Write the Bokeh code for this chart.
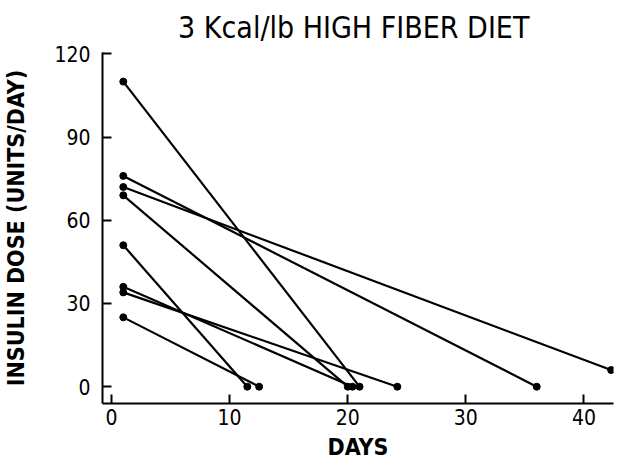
from bokeh.plotting import figure
from bokeh.models import Range1d, FixedTicker, ColumnDataSource
from bokeh.embed import file_html
from bokeh.resources import INLINE

# Each line: initial insulin dose (day ~1) falling to the final dose on the final day
start_day = [1.0, 1.0, 1.0, 1.0, 1.0, 1.0, 1.0, 1.0]
start_dose = [110, 76, 72, 69, 51, 36, 34, 25]
end_day = [21.0, 36.0, 42.3, 20.0, 11.5, 20.4, 24.2, 12.5]
end_dose = [0, 0, 6, 0, 0, 0, 0, 0]

x_ticks = [0, 10, 20, 30, 40]
y_ticks = [0, 30, 60, 90, 120]

FONT = "DejaVu Sans Condensed"

src = ColumnDataSource(dict(x0=start_day, y0=start_dose, x1=end_day, y1=end_dose))

p = figure(width=617, height=462, output_backend="svg", toolbar_location=None,
           x_range=Range1d(-0.76, 42.5), y_range=Range1d(-6.06, 120.5),
           title="3 Kcal/lb  HIGH FIBER DIET",
           min_border_left=100, min_border_right=4, min_border_top=52, min_border_bottom=55)

p.segment(x0="x0", y0="y0", x1="x1", y1="y1", source=src, line_color="black", line_width=2.2)
p.scatter(x="x0", y="y0", source=src, size=7, color="black")
p.scatter(x="x1", y="y1", source=src, size=7, color="black")

p.outline_line_color = None
p.xgrid.visible = False
p.ygrid.visible = False
p.background_fill_color = "white"
p.border_fill_color = "white"

p.title.text_font = FONT
p.title.text_font_size = "30px"
p.title.text_font_style = "normal"
p.title.align = "center"
p.title.standoff = 15
p.title.text_color = "black"

for ax, ticks in ((p.xaxis, x_ticks), (p.yaxis, y_ticks)):
    ax.ticker = FixedTicker(ticks=ticks)
    ax.axis_line_width = 2
    ax.axis_line_color = "black"
    ax.major_tick_in = 9
    ax.major_tick_out = 0
    ax.major_tick_line_width = 2
    ax.minor_tick_line_color = None
    ax.major_label_text_font = FONT
    ax.major_label_text_font_size = "21px"
    ax.major_label_text_color = "black"
    ax.axis_label_text_font = FONT
    ax.axis_label_text_font_size = "23px"
    ax.axis_label_text_font_style = "bold"
    ax.axis_label_text_color = "black"

p.xaxis.axis_label = "DAYS"
p.yaxis.axis_label = "INSULIN DOSE (UNITS/DAY)"
p.xaxis.major_label_standoff = 5
p.xaxis.axis_label_standoff = 6
p.yaxis.major_label_standoff = 12
p.yaxis.axis_label_standoff = 22

open("out.html", "w").write(file_html(p, INLINE))
